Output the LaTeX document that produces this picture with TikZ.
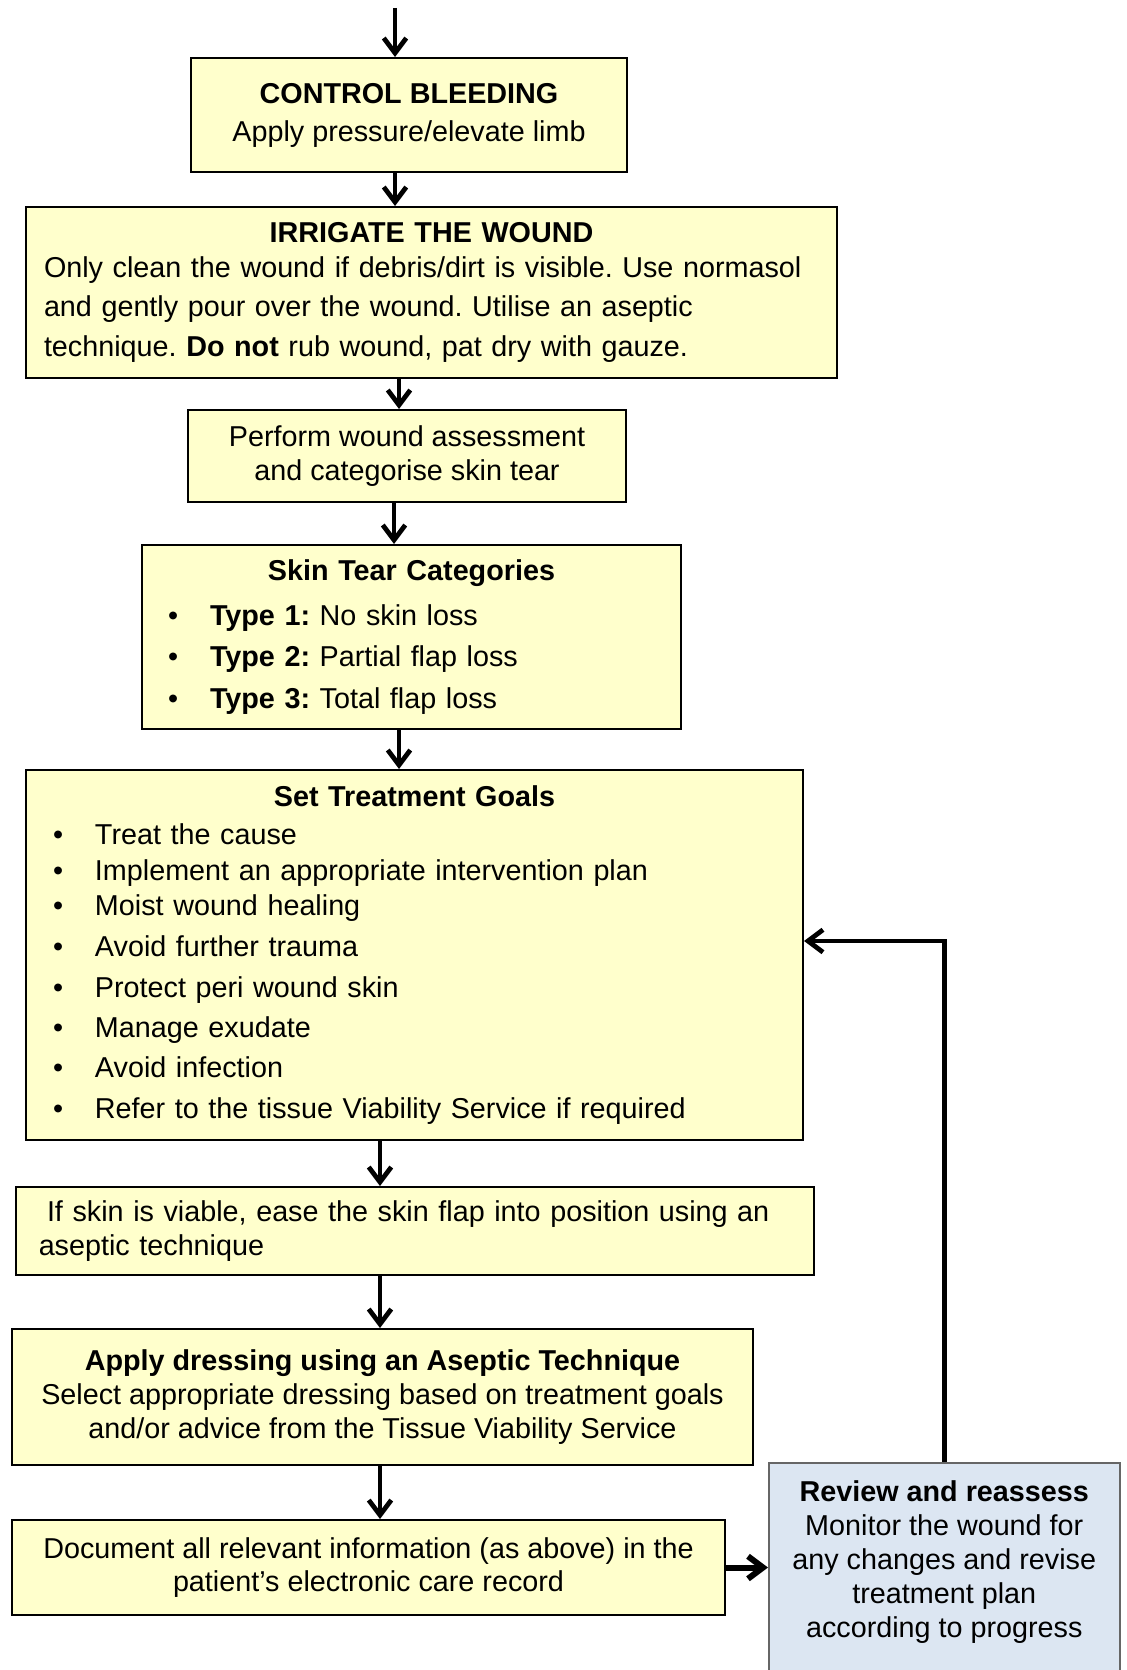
\documentclass[tikz,border=0pt]{standalone}
\usepackage{fontspec}
\setmainfont{Liberation Sans}
\usetikzlibrary{arrows.meta}
\definecolor{stepyellow}{HTML}{FFFFCC}
\definecolor{reviewblue}{HTML}{DCE6F2}
\newcommand{\bulletitem}[1]{\makebox[16.8pt][l]{\textbullet}#1}
\frenchspacing

\begin{document}
\begin{tikzpicture}[
  x=0.4pt, y=-0.4pt,
  font=\fontsize{11.5}{13.6}\selectfont,
  stepbox/.style={draw=black, line width=0.8pt, fill=stepyellow, anchor=north west, inner ysep=0pt},
  reviewbox/.style={draw=gray!80!black, line width=0.6pt, fill=reviewblue, anchor=north west},
  flow/.style={draw, line width=1.9pt, -{Straight Barb[length=6pt,width=9pt]}},
  bigflow/.style={flow, line width=2.4pt}
]
  \useasboundingbox (0,0) rectangle (1126,1670);
  \clip (0,0) rectangle (1126,1670);

  \node[stepbox, minimum width=174.4pt, minimum height=45.6pt, align=center] (ctrl) at (190,57)
    {\textbf{CONTROL BLEEDING}\\[1.6pt]Apply pressure/elevate limb};
  \node[stepbox, text width=310pt, inner xsep=7.2pt, minimum height=68.4pt, align=left] (irr) at (25,206)
    {\makebox[\linewidth]{\textbf{IRRIGATE THE WOUND}}\\[0.4pt]
     Only clean the wound if debris/dirt is visible. Use normasol\\[1.8pt]
     and gently pour over the wound. Utilise an aseptic\\[2.4pt]
     technique. \textbf{Do not} rub wound, pat dry with gauze.};
  \node[stepbox, minimum width=175.2pt, minimum height=36.8pt, align=center] (perf) at (187,409)
    {Perform wound assessment\\[-0.3pt]and categorise skin tear};
  \node[stepbox, text width=194.8pt, inner xsep=10.4pt, minimum height=73.6pt, align=left] (skin) at (141,544)
    {\makebox[\linewidth]{\textbf{Skin Tear Categories}}\\[4.6pt]
     \bulletitem{\textbf{Type 1:} No skin loss}\\[2.8pt]
     \bulletitem{\textbf{Type 2:} Partial flap loss}\\[3pt]
     \bulletitem{\textbf{Type 3:} Total flap loss}};
  \node[stepbox, text width=289.2pt, inner xsep=10.8pt, minimum height=148pt, align=left] (goals) at (25,769)
    {\makebox[\linewidth]{\textbf{Set Treatment Goals}}\\[1.5pt]
     \bulletitem{Treat the cause}\\[0.8pt]
     \bulletitem{Implement an appropriate intervention plan}\\[0.3pt]
     \bulletitem{Moist wound healing}\\[2.8pt]
     \bulletitem{Avoid further trauma}\\[2.8pt]
     \bulletitem{Protect peri wound skin}\\[2.6pt]
     \bulletitem{Manage exudate}\\[2.4pt]
     \bulletitem{Avoid infection}\\[2.7pt]
     \bulletitem{Refer to the tissue Viability Service if required}};
  \node[stepbox, text width=301pt, inner xsep=9.1pt, minimum height=35.2pt, align=left] (skinf) at (15,1186)
    {\makebox[\linewidth][s]{\hspace*{3.3pt}If skin is viable, ease the skin flap into position using an}\\
     aseptic technique};
  \node[stepbox, minimum width=296.4pt, minimum height=54.4pt, align=center] (apply) at (11,1328)
    {\textbf{Apply dressing using an Aseptic Technique}\\
     Select appropriate dressing based on treatment goals\\
     and/or advice from the Tissue Viability Service};
  \node[stepbox, minimum width=285.2pt, minimum height=38pt, align=center] (doc) at (11,1519)
    {Document all relevant information (as above) in the\\[-0.3pt]patient’s electronic care record};
  \node[reviewbox, minimum width=140.4pt, inner ysep=7pt, align=center] (rev) at (768,1462)
    {\textbf{Review and reassess}\\Monitor the wound for\\any changes and revise\\treatment plan\\according to progress\\[20pt]\mbox{}};

  % arrows down the chart
  \coordinate (entry) at (395,8);
  \draw[flow] (entry) -- (entry |- ctrl.north);
  \foreach \a/\b/\x in {ctrl/irr/395, irr/perf/399, perf/skin/394, skin/goals/399,
                        goals/skinf/380, skinf/apply/380, apply/doc/380}
    \draw[flow] (\a.south -| \x,0) -- (\b.north -| \x,0);

  % review loop
  \draw[bigflow] (doc.east) -- (doc.east -| rev.west);
  \draw[flow] (rev.north) |- ([yshift=5.6pt]goals.east);
\end{tikzpicture}
\end{document}
